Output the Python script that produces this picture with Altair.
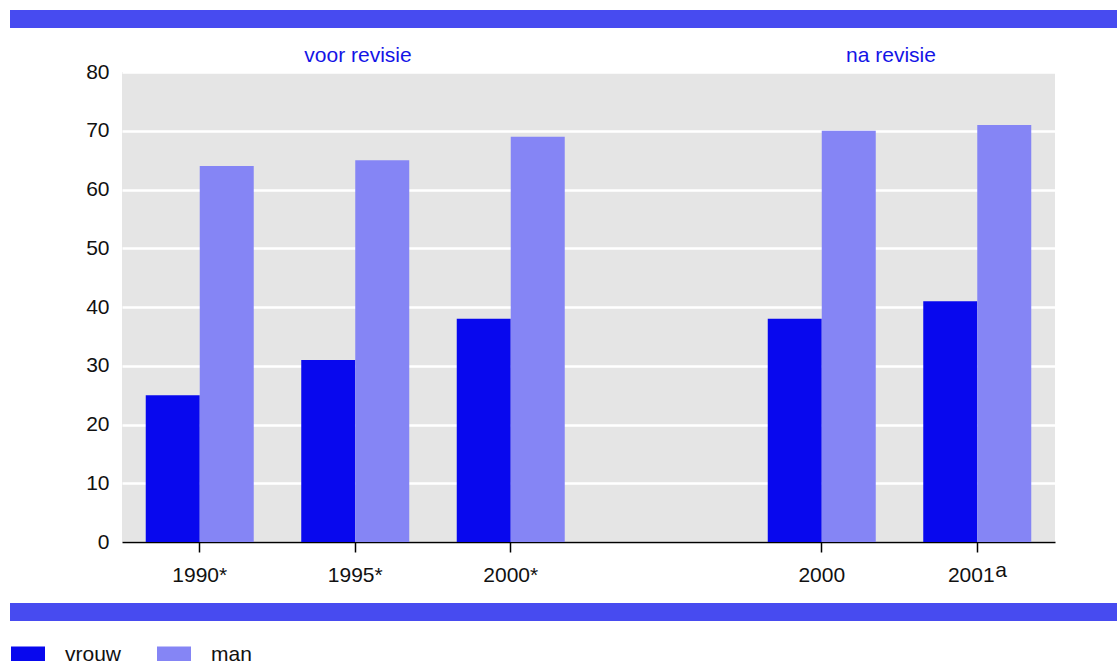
import altair as alt
import pandas as pd

# Categories on the x axis; "" is an empty spacer slot between the two series
periods = ["1990*", "1995*", "2000*", "", "2000", "2001ᵃ"]
shown_periods = ["1990*", "1995*", "2000*", "2000", "2001ᵃ"]
vrouw = [25, 31, 38, 38, 41]
man = [64, 65, 69, 70, 71]

rows = []
for p, v, m in zip(shown_periods, vrouw, man):
    rows.append({"periode": p, "geslacht": "vrouw", "waarde": v})
    rows.append({"periode": p, "geslacht": "man", "waarde": m})
df = pd.DataFrame(rows)

BAND = "#474bf0"
DARK = "#0808ee"
LIGHT = "#8585f5"
FONT = "Liberation Sans"

x_scale = alt.Scale(domain=periods, paddingInner=0.3055, paddingOuter=0.1527)

bars = alt.Chart(df).mark_bar().encode(
    x=alt.X(
        "periode:N",
        sort=periods,
        scale=x_scale,
        axis=alt.Axis(
            values=shown_periods, title=None, labelAngle=0, domainColor="black",
            domainWidth=1.5, tickColor="black", tickSize=10, tickWidth=1.5,
            labelFontSize=21, labelColor="#111111", labelPadding=12, grid=False,
            labelFont=FONT,
            # the footnote marker of 2001 is drawn separately as a raised "a"
            labelExpr="datum.value == '2001ᵃ' ? '2001' : datum.label",
            labelOffset={"condition": {"test": "datum.value == '2001ᵃ'", "value": -6},
                         "value": 0},
        ),
    ),
    xOffset=alt.XOffset("geslacht:N", sort=["vrouw", "man"],
                        scale=alt.Scale(paddingInner=0, paddingOuter=0)),
    y=alt.Y(
        "waarde:Q",
        scale=alt.Scale(domain=[0, 80], nice=False),
        axis=alt.Axis(
            values=list(range(0, 81, 10)), title=None, domain=False, ticks=False,
            gridColor="white", gridWidth=2.5, labelFontSize=21,
            labelColor="#111111", labelPadding=13, labelFont=FONT,
        ),
    ),
    color=alt.Color(
        "geslacht:N",
        sort=["vrouw", "man"],
        scale=alt.Scale(domain=["vrouw", "man"], range=[DARK, LIGHT]),
        legend=alt.Legend(
            title=None, orient="none", direction="horizontal",
            legendX=-111, legendY=566,
            symbolType="M-1,-0.5L1,-0.5L1,0.5L-1,0.5Z", symbolSize=1156,
            symbolStrokeWidth=0, labelFontSize=21, labelFont=FONT,
            labelColor="#111111", columnPadding=35, labelOffset=20,
        ),
    ),
)

# Raised footnote marker next to the 2001 label
marker = alt.Chart(pd.DataFrame({"periode": ["2001ᵃ"], "s": ["a"]})).mark_text(
    fontSize=21, font=FONT, color="#111111", align="left", baseline="alphabetic",
    dx=18, clip=False,
).encode(
    x=alt.X("periode:N", sort=periods, scale=x_scale),
    y=alt.value(505),
    text="s:N",
)

# Decorative blue bands above and below the plot
top_band = alt.Chart(pd.DataFrame({"k": [0]})).mark_rect(color=BAND, clip=False).encode(
    x=alt.value(-112), x2=alt.value(995), y=alt.value(-62), y2=alt.value(-44)
)
bottom_band = alt.Chart(pd.DataFrame({"k": [0]})).mark_rect(color=BAND, clip=False).encode(
    x=alt.value(-112), x2=alt.value(995), y=alt.value(531), y2=alt.value(549)
)

# Section headings
headings = pd.DataFrame({"label": ["voor revisie", "na revisie"], "px": [236, 769]})
heading_text = alt.Chart(headings).mark_text(
    color="#1414e6", fontSize=21, font=FONT, baseline="alphabetic", align="center"
).encode(
    text="label:N", x=alt.X("px:Q", scale=None), y=alt.value(-10)
)

chart = alt.layer(top_band, bottom_band, bars, marker, heading_text).properties(
    width=933, height=470,
    padding={"left": 122, "top": 72, "right": 62, "bottom": 119},
    autosize=alt.AutoSizeParams(type="none"),
    background="white",
).configure_view(fill="#e5e5e5", stroke=None)

chart.save("out.html", embed_options={"renderer": "svg", "actions": False})
